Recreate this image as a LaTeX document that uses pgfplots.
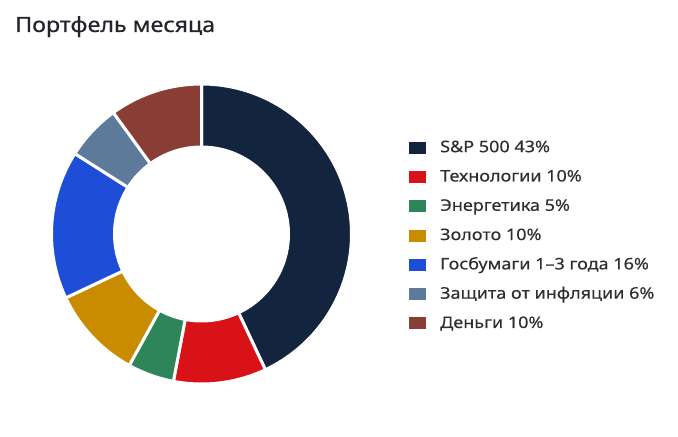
\documentclass[border=0pt]{standalone}
\usepackage{pgfplots}
\pgfplotsset{compat=1.18}
\usepackage{fontspec}
\setmainfont{Noto Sans}[FakeStretch=1.12]
\newfontfamily\titlefont{Noto Sans}[FakeStretch=1.11, FakeBold=0.6]
\newfontfamily\legendfont{Noto Sans}[FakeStretch=1.13, FakeBold=0.25]

\definecolor{cNavy}{HTML}{13243F}
\definecolor{cRed}{HTML}{D91217}
\definecolor{cGreen}{HTML}{2E855A}
\definecolor{cGold}{HTML}{C98C00}
\definecolor{cBlue}{HTML}{1E4ED8}
\definecolor{cSlate}{HTML}{5D7A9B}
\definecolor{cBrown}{HTML}{8A3D34}
\definecolor{titlegray}{HTML}{22262B}
\definecolor{textgray}{HTML}{2E2E2E}

% donut geometry, in pixels of the 678x437 picture
\def\cx{201.5}
\def\cy{203}
\def\Ro{150}
\def\ri{88.5}

% #1 = share before this one, #2 = share (%), #3 = colour
\newcommand{\donutseg}[3]{%
  \pgfmathsetmacro{\segA}{90-3.6*(#1+#2)}%
  \pgfmathsetmacro{\segB}{90-3.6*(#1)}%
  \addplot[fill=#3, draw=white, line width=3bp, domain=\segA:\segB, samples=90]
    ({\cx+\Ro*cos(x)},{\cy+\Ro*sin(x)}) -- (\cx,\cy) -- cycle;
}

\begin{document}
\begin{tikzpicture}
\begin{axis}[
    hide axis,
    scale only axis,
    width=678bp, height=437bp,
    xmin=0, xmax=678, ymin=0, ymax=437,
    clip=false,
    legend cell align=left,
    legend image code/.code={\fill[#1, draw=none] (0bp,-5.5bp) rectangle (16.5bp,6.5bp);},
    legend style={
        draw=none, fill=none,
        at={(axis cs:406,299)}, anchor=north west,
        font=\legendfont\fontsize{16}{19}\selectfont, text=textgray,
        row sep=13.3bp,
        nodes={inner sep=0pt, text height=12bp, text depth=4bp},
        /tikz/every odd column/.append style={column sep=14.5bp},
    },
]
\path (0,0) rectangle (678,437);

\donutseg{0}{43}{cNavy}   \addlegendentry{S\&P 500 43\%}
\donutseg{43}{10}{cRed}   \addlegendentry{Технологии 10\%}
\donutseg{53}{5}{cGreen}  \addlegendentry{Энергетика 5\%}
\donutseg{58}{10}{cGold}  \addlegendentry{Золото 10\%}
\donutseg{68}{16}{cBlue}  \addlegendentry{Госбумаги 1–3 года 16\%}
\donutseg{84}{6}{cSlate}  \addlegendentry{Защита от инфляции 6\%}
\donutseg{90}{10}{cBrown} \addlegendentry{Деньги 10\%}

\addplot[fill=white, draw=none, domain=0:360, samples=180, forget plot]
    ({\cx+\ri*cos(x)},{\cy+\ri*sin(x)}) -- cycle;

\node[anchor=base west, inner sep=0pt, text=titlegray,
      font=\titlefont\fontsize{21}{25}\selectfont] at (15,405) {Портфель месяца};
\end{axis}
\end{tikzpicture}
\end{document}
